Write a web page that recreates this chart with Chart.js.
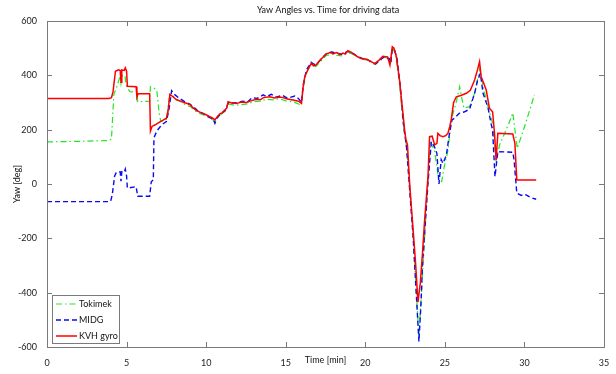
<!DOCTYPE html>
<html>
<head>
<meta charset="utf-8">
<title>Yaw Angles vs. Time</title>
<script src="https://cdn.jsdelivr.net/npm/chart.js@4.4.1/dist/chart.umd.min.js"></script>
<style>
  html, body { margin: 0; padding: 0; background: #fff; }
  #chart { display: block; }
</style>
</head>
<body>
<canvas id="chart" width="616" height="374"></canvas>
<script>
// axis ticks
const xTicks = [0, 5, 10, 15, 20, 25, 30, 35];
const yTicks = [-600, -400, -200, 0, 200, 400, 600];

// Tokimek
const timeTokimek = [0, 2.0, 3.9, 4.05, 4.2, 4.4, 4.6, 4.65, 4.75, 4.9, 5.0, 5.2, 5.65, 5.7, 6.45, 6.5, 6.75, 6.9, 7.05, 7.15, 7.5, 7.7, 7.9, 8.2, 8.6, 9.0, 9.4, 9.8, 10.2, 10.55, 10.8, 11.2, 11.4, 11.8, 12.2, 12.6, 13.0, 13.4, 13.8, 14.2, 14.6, 15.0, 15.5, 15.99, 16.1, 16.3, 16.6, 16.9, 17.2, 17.55, 17.9, 18.2, 18.5, 18.9, 19.2, 19.5, 19.8, 20.1, 20.6, 20.9, 21.2, 21.5, 21.6, 21.7, 21.9, 22.15, 22.4, 22.6, 22.8, 23.0, 23.2, 23.37, 23.5, 23.7, 23.9, 24.1, 24.35, 24.6, 24.8, 24.95, 25.2, 25.4, 25.72, 25.93, 26.05, 26.2, 26.55, 26.87, 27.2, 27.4, 27.6, 28.0, 28.22, 28.44, 29.0, 29.27, 29.55, 30.0, 30.63];
const yawTokimek = [155, 157, 160, 165, 330, 360, 398, 370, 402, 395, 360, 340, 338, 303, 305, 358, 352, 345, 260, 230, 238, 320, 325, 310, 295, 285, 265, 255, 245, 230, 250, 268, 295, 290, 292, 295, 303, 305, 312, 310, 314, 306, 302, 290, 355, 410, 440, 432, 452, 473, 478, 474, 472, 485, 478, 468, 460, 456, 440, 452, 467, 460, 440, 500, 480, 370, 210, 135, -20, -180, -390, -565, -430, -230, -20, 150, 125, 20, 9, 60, 125, 236, 303, 358, 320, 279, 285, 334, 426, 360, 309, 223, 88, 144, 220, 262, 131, 210, 328];

// MIDG
const timeMidg = [0, 3.9, 4.0, 4.1, 4.25, 4.35, 4.6, 4.65, 4.7, 4.85, 4.92, 5.0, 5.05, 5.6, 5.7, 6.45, 6.55, 6.68, 6.72, 6.9, 7.1, 7.3, 7.5, 7.65, 7.83, 8.0, 8.3, 8.6, 9.0, 9.2, 9.5, 9.8, 10.2, 10.45, 10.55, 10.7, 11.0, 11.2, 11.4, 11.7, 12.0, 12.3, 12.6, 12.9, 13.2, 13.58, 13.8, 14.1, 14.4, 14.8, 15.1, 15.57, 15.8, 15.99, 16.1, 16.3, 16.6, 16.8, 17.0, 17.3, 17.6, 17.9, 18.2, 18.5, 18.9, 19.2, 19.5, 19.8, 20.1, 20.4, 20.65, 20.9, 21.2, 21.5, 21.6, 21.7, 21.85, 22.0, 22.2, 22.4, 22.6, 22.8, 23.0, 23.2, 23.37, 23.5, 23.6, 23.8, 23.94, 24.15, 24.35, 24.5, 24.63, 24.77, 24.88, 25.09, 25.3, 25.45, 25.6, 25.9, 26.2, 26.55, 26.87, 27.05, 27.23, 27.4, 27.6, 27.7, 27.9, 28.0, 28.15, 28.33, 29.27, 29.35, 29.52, 29.8, 30.0, 30.1, 30.4, 30.74];
const yawMidg = [-65, -65, -63, -40, 30, 42, 45, 10, 45, 42, 55, 30, -15, -10, -45, -45, 8, 15, 170, 195, 210, 222, 230, 270, 343, 330, 316, 305, 293, 284, 268, 260, 245, 238, 223, 245, 262, 270, 300, 298, 300, 305, 302, 318, 315, 328, 322, 330, 320, 326, 316, 324, 315, 300, 365, 420, 448, 440, 445, 465, 482, 486, 482, 478, 488, 482, 470, 462, 458, 450, 442, 456, 468, 462, 445, 498, 492, 460, 360, 220, 130, -30, -190, -400, -580, -440, -291, -120, 4, 156, 137, 113, 0, 90, 76, 105, 190, 236, 242, 260, 265, 275, 334, 380, 407, 334, 300, 285, 223, 199, 27, 119, 117, 88, -34, -42, -38, -40, -50, -56];

// KVH gyro
const timeKvh = [0, 3.9, 4.05, 4.15, 4.3, 4.5, 4.6, 4.65, 4.7, 4.85, 4.92, 5.0, 5.05, 5.6, 5.65, 5.72, 6.45, 6.5, 6.6, 6.8, 7.1, 7.3, 7.5, 7.6, 7.72, 7.9, 8.14, 8.4, 8.6, 8.77, 9.0, 9.18, 9.4, 9.71, 10.0, 10.23, 10.4, 10.55, 10.7, 10.86, 11.0, 11.17, 11.3, 11.38, 11.6, 11.9, 12.2, 12.54, 12.8, 13.16, 13.4, 13.6, 14.0, 14.3, 14.6, 14.83, 15.1, 15.46, 15.8, 15.99, 16.1, 16.2, 16.35, 16.6, 16.75, 16.9, 17.2, 17.55, 17.8, 18.0, 18.2, 18.4, 18.6, 18.75, 18.9, 19.1, 19.45, 19.7, 20.1, 20.3, 20.6, 20.85, 21.1, 21.4, 21.55, 21.7, 21.8, 21.95, 22.15, 22.3, 22.47, 22.55, 22.65, 22.8, 22.99, 23.16, 23.31, 23.46, 23.6, 23.73, 23.94, 24.04, 24.2, 24.36, 24.5, 24.56, 24.7, 24.88, 25.05, 25.19, 25.3, 25.4, 25.55, 25.72, 26.0, 26.35, 26.6, 26.87, 27.05, 27.18, 27.28, 27.4, 27.6, 27.8, 28.0, 28.12, 28.22, 28.33, 29.27, 29.4, 29.52, 30.74];
const yawKvh = [315, 315, 318, 340, 415, 420, 418, 375, 420, 418, 428, 415, 360, 358, 320, 332, 332, 195, 212, 218, 229, 235, 242, 265, 330, 322, 310, 305, 300, 297, 292, 280, 270, 262, 255, 248, 243, 236, 248, 258, 262, 272, 280, 303, 298, 296, 302, 300, 306, 312, 310, 318, 321, 317, 320, 318, 313, 309, 305, 297, 360, 395, 415, 444, 435, 438, 458, 479, 484, 480, 484, 476, 482, 478, 491, 485, 471, 463, 459, 452, 443, 455, 470, 468, 438, 505, 500, 470, 383, 297, 200, 165, 144, -10, -157, -291, -435, -364, -250, -132, 27, 174, 176, 144, 150, 186, 178, 174, 178, 186, 210, 236, 300, 321, 326, 334, 345, 383, 420, 450, 395, 377, 346, 279, 266, 187, 88, 187, 184, 150, 15, 15];

const FONT = '"Lato", "DejaVu Sans", sans-serif';

function toPoints(xs, ys) {
  return xs.map((x, i) => ({ x: x, y: ys[i] }));
}

const series = [
  { label: "Tokimek", data: toPoints(timeTokimek, yawTokimek), color: "#22e622", dash: [6, 3, 1.5, 3], width: 1.2, order: 3 },
  { label: "MIDG", data: toPoints(timeMidg, yawMidg), color: "#0a0af0", dash: [5, 3], width: 1.4, order: 2 },
  { label: "KVH gyro", data: toPoints(timeKvh, yawKvh), color: "#ff0000", dash: [], width: 1.5, order: 1 },
];

// box, inward ticks, titles and legend, drawn the way MATLAB axes look
const matlabFrame = {
  id: "matlabFrame",
  afterDraw(chart) {
    const { ctx, chartArea: a, scales } = chart;
    const xs = scales.x, ys = scales.y;
    ctx.save();
    ctx.strokeStyle = "#7a7a7a";
    ctx.lineWidth = 1;
    ctx.strokeRect(Math.round(a.left) + 0.5, Math.round(a.top) + 0.5, Math.round(a.right - a.left), Math.round(a.bottom - a.top));

    const tl = 5;
    ctx.beginPath();
    xTicks.forEach(v => {
      const px = Math.round(xs.getPixelForValue(v)) + 0.5;
      ctx.moveTo(px, a.bottom); ctx.lineTo(px, a.bottom - tl);
      ctx.moveTo(px, a.top); ctx.lineTo(px, a.top + tl);
    });
    yTicks.forEach(v => {
      const py = Math.round(ys.getPixelForValue(v)) + 0.5;
      ctx.moveTo(a.left, py); ctx.lineTo(a.left + tl, py);
      ctx.moveTo(a.right, py); ctx.lineTo(a.right - tl, py);
    });
    ctx.stroke();

    // titles
    ctx.fillStyle = "#111";
    ctx.font = "9px " + FONT;
    ctx.textAlign = "center";
    ctx.textBaseline = "middle";
    ctx.fillText("Yaw Angles vs. Time for driving data", 328, 10);
    ctx.fillText("Time [min]", (a.left + a.right) / 2, 360);
    ctx.save();
    ctx.translate(17, (a.top + a.bottom) / 2);
    ctx.rotate(-Math.PI / 2);
    ctx.fillText("Yaw [deg]", 0, 0);
    ctx.restore();

    // legend
    const bx = 52.5, by = 295.5, bw = 67, bh = 48;
    ctx.fillStyle = "#fff";
    ctx.fillRect(bx, by, bw, bh);
    ctx.strokeStyle = "#7a7a7a";
    ctx.strokeRect(bx, by, bw, bh);
    ctx.textAlign = "left";
    series.forEach((s, i) => {
      const ly = 304 + i * 16;
      ctx.beginPath();
      ctx.strokeStyle = s.color;
      ctx.lineWidth = s.width;
      ctx.setLineDash(s.dash);
      ctx.moveTo(56, ly); ctx.lineTo(77, ly);
      ctx.stroke();
      ctx.setLineDash([]);
      ctx.fillStyle = "#111";
      ctx.fillText(s.label, 79, ly);
    });
    ctx.restore();
  }
};

new Chart(document.getElementById("chart"), {
  type: "line",
  data: {
    datasets: series.map(s => ({
      label: s.label,
      data: s.data,
      borderColor: s.color,
      borderWidth: s.width,
      borderDash: s.dash,
      pointRadius: 0,
      tension: 0,
      fill: false,
      order: s.order,
    })),
  },
  options: {
    responsive: false,
    animation: false,
    layout: { padding: { top: 21, right: 12, left: 0, bottom: 0 } },
    plugins: { legend: { display: false }, title: { display: false }, tooltip: { enabled: false } },
    scales: {
      x: {
        type: "linear",
        min: 0,
        max: 35,
        afterBuildTicks: s => { s.ticks = xTicks.map(v => ({ value: v })); },
        afterFit: s => { s.height = 27; },
        grid: { display: false },
        border: { display: false },
        ticks: { color: "#222", font: { family: FONT, size: 9 }, padding: 3, maxRotation: 0, autoSkip: false },
      },
      y: {
        type: "linear",
        min: -600,
        max: 600,
        afterBuildTicks: s => { s.ticks = yTicks.map(v => ({ value: v })); },
        afterFit: s => { s.width = 47; },
        grid: { display: false },
        border: { display: false },
        ticks: { color: "#222", font: { family: FONT, size: 9 }, padding: 2 },
      },
    },
  },
  plugins: [matlabFrame],
});
</script>
</body>
</html>
